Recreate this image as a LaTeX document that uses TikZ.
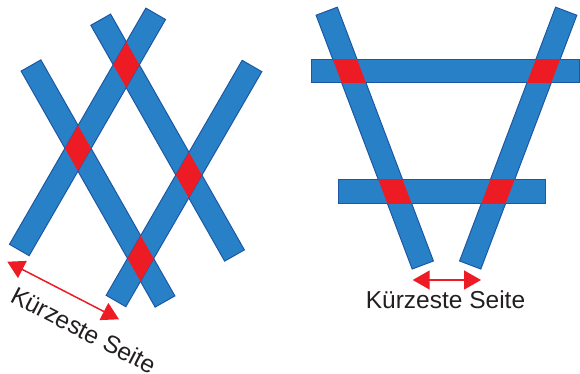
\documentclass[tikz,border=0pt]{standalone}
\usepackage{fontspec}
\setmainfont{Liberation Sans}
\usetikzlibrary{arrows.meta, calc}
\definecolor{barfill}{RGB}{40,129,198}
\definecolor{barline}{RGB}{28,87,166}
\definecolor{cross}{RGB}{237,28,36}
\definecolor{label}{RGB}{35,31,32}
\newcommand{\barpath}[2]{($(#1)!11.35pt!90:(#2)$) -- ($(#2)!11.35pt!-90:(#1)$) -- ($(#2)!11.35pt!90:(#1)$) -- ($(#1)!11.35pt!-90:(#2)$) -- cycle}

\begin{document}
\begin{tikzpicture}[x=1pt, y=-1pt,
    bar/.style={fill=barfill, draw=barline, line width=1pt},
    measure/.style={draw=cross, line width=1.5pt, {Triangle[length=17pt,width=19pt]}-{Triangle[length=17pt,width=19pt]}},
    caption/.style={text=label, inner sep=0pt, font=\fontsize{24.5}{29}\selectfont}]
    \useasboundingbox (0,0) rectangle (580,374);

    \coordinate (a1) at (31,65.5);    \coordinate (a2) at (165,301.5);
    \coordinate (b1) at (100.7,19.7); \coordinate (b2) at (234.5,255.5);
    \coordinate (c1) at (19.3,250);   \coordinate (c2) at (155.7,13.8);
    \coordinate (d1) at (116,301);    \coordinate (d2) at (252,66);
    \coordinate (e1) at (326.7,11.2); \coordinate (e2) at (422.8,265);
    \coordinate (f1) at (566.2,11.2); \coordinate (f2) at (470.2,265);
    \coordinate (g1) at (311.7,59.3); \coordinate (g2) at (579.5,82.7);
    \coordinate (h1) at (338.3,179);  \coordinate (h2) at (545.7,203.3);

    \foreach \p in {a,b,c,d,e,f}
        \draw[bar] \barpath{\p1}{\p2};
    \draw[bar] (g1) rectangle (g2);
    \draw[bar] (h1) rectangle (h2);

    \foreach \p/\q in {a/c,a/d,b/c,b/d} {
        \begin{scope}
            \clip \barpath{\p1}{\p2};
            \fill[cross] \barpath{\q1}{\q2};
        \end{scope}
    }
    \foreach \p/\q in {g/e,g/f,h/e,h/f} {
        \begin{scope}
            \clip (\p1) rectangle (\p2);
            \fill[cross] \barpath{\q1}{\q2};
        \end{scope}
    }

    \coordinate (l1) at (7.3,261.7);  \coordinate (l2) at (119,319.3);
    \coordinate (r1) at (412.7,280);  \coordinate (r2) at (481,280);
    \draw[measure] (l1) -- (l2);
    \draw[measure] (r1) -- (r2);
    \node[caption, rotate=-27.3] (lefttext) at (84,330) {Kürzeste Seite};
    \node[caption] (righttext) at (445.5,300) {Kürzeste Seite};
\end{tikzpicture}
\end{document}
